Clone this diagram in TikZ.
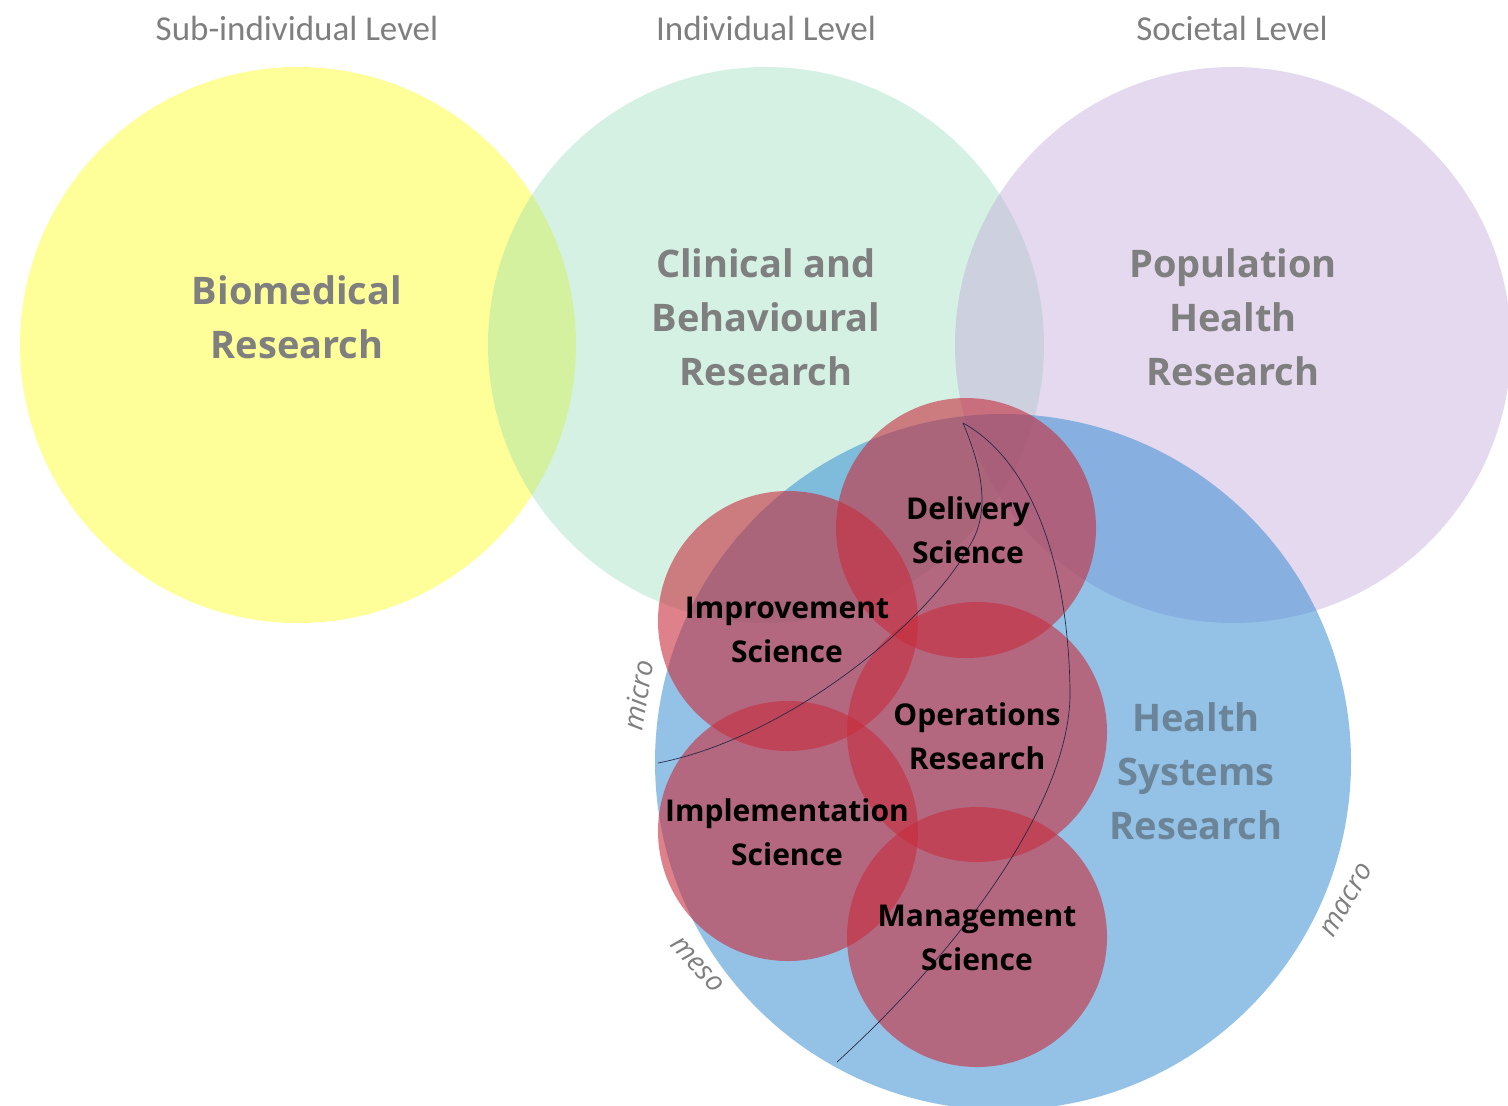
\documentclass[tikz,border=0pt]{standalone}
\usepackage{fontspec}
\setmainfont{Open Sans}
\newfontfamily\lvlfont{Carlito}
\definecolor{ycol}{RGB}{255,255,153}
\definecolor{gcol}{RGB}{124,214,174}
\definecolor{pcol}{RGB}{192,160,217}
\definecolor{bcol}{RGB}{43,135,209}
\definecolor{rcol}{RGB}{200,45,60}
\definecolor{labgray}{RGB}{127,127,127}
\definecolor{hsrgray}{RGB}{108,132,152}
\definecolor{arcline}{RGB}{40,40,70}
\begin{document}
\begin{tikzpicture}[x=0.5pt,y=-0.5pt,
  reddisc/.style={fill=rcol, fill opacity=0.6},
  biglab/.style={font=\fontsize{19}{27}\selectfont\bfseries, text=labgray, align=center},
  redlab/.style={font=\fontsize{15}{22}\selectfont\bfseries, text=black, align=center},
  lvl/.style={font=\lvlfont\fontsize{17.5}{21}\selectfont, text=labgray},
  tier/.style={font=\itshape\fontsize{14}{16}\selectfont, text=labgray},
  levelarc/.style={draw=arcline, line width=0.35pt}
]
\useasboundingbox (0,0) rectangle (1508,1105);
\fill[white] (0,0) rectangle (1508,1105);
\clip (0,0) rectangle (1508,1105);

% large circles
\fill[ycol] (298,345) circle[radius=139pt];
\fill[gcol, fill opacity=0.32] (766,345) circle[radius=139pt];
\fill[pcol, fill opacity=0.4] (1233,345) circle[radius=139pt];
\fill[bcol, fill opacity=0.5] (1003,762) circle[radius=174pt];

% red circles
\fill[reddisc] (966,528) circle[radius=65pt];
\fill[reddisc] (788,621) circle[radius=65pt];
\fill[reddisc] (977,732) circle[radius=65pt];
\fill[reddisc] (788,831) circle[radius=65pt];
\fill[reddisc] (977,937) circle[radius=65pt];

% level arcs
\coordinate (top) at (963,423);
\coordinate (microstart) at (658,763);
\coordinate (microbend) at (970,545);
\coordinate (mesostart) at (837,1062);
\coordinate (mesobend) at (1070,690);
\draw[levelarc] (microstart) .. controls (790,737) and (930,620) .. (microbend)
  .. controls (995,505) and (975,452) .. (top);
\draw[levelarc] (mesostart) .. controls (960,950) and (1072,800) .. (mesobend)
  .. controls (1068,560) and (1030,460) .. (top);

% level headings
\node[lvl] (lsub) at (297,28) {Sub-individual Level};
\node[lvl] (lind) at (766,28) {Individual Level};
\node[lvl] (lsoc) at (1232,28) {Societal Level};

% big labels
\node[biglab] (tbio) at (297,317) {Biomedical\\Research};
\node[biglab] (tclin) at (766,317) {Clinical and\\Behavioural\\Research};
\node[biglab] (tpop) at (1233,317) {Population\\Health\\Research};
\node[biglab, text=hsrgray] (thsr) at (1196,771) {Health\\Systems\\Research};

% red labels
\node[redlab] (tdeliv) at (968,530) {Delivery\\Science};
\node[redlab] (timprov) at (787,630) {Improvement\\Science};
\node[redlab] (toper) at (977,736) {Operations\\Research};
\node[redlab] (timpl) at (787,832) {Implementation\\Science};
\node[redlab] (tmanag) at (977,938) {Management\\Science};

% tier labels
\node[tier, rotate=81] (tmicro) at (638,695) {micro};
\node[tier, rotate=-48] (tmeso) at (697,965) {meso};
\node[tier, rotate=60] (tmacro) at (1347,900) {macro};
\end{tikzpicture}
\end{document}
